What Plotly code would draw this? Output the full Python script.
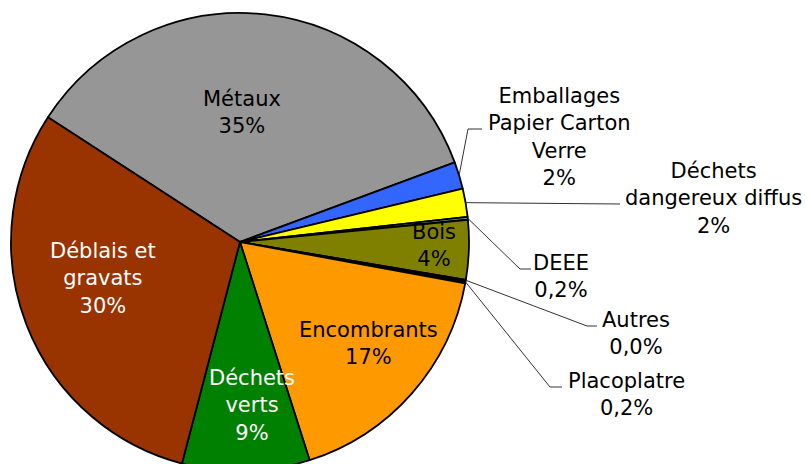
import plotly.graph_objects as go
import math

# ---- data ----
categories = ["Métaux", "Emballages<br>Papier Carton<br>Verre", "Déchets<br>dangereux diffus",
              "DEEE", "Bois", "Autres", "Placoplatre", "Encombrants", "Déchets<br>verts",
              "Déblais et<br>gravats"]
values = [35.2, 1.9, 2.0, 0.2, 4.2, 0.04, 0.2, 17.2, 9.0, 30.1]
colors = ["#969696", "#3366FF", "#FFFF00", "#5F9EA8", "#808000", "#000000", "#000000",
          "#FF9900", "#008000", "#993300"]
label_colors = ["black", "black", "black", "black", "black", "black", "black", "black",
                "white", "white"]


def pct_label(v):
    if v < 1:
        return f"{v:.1f}".replace(".", ",") + "%"
    return f"{round(v):d}%"


# ---- layout constants (pixels) ----
W, H = 807, 484
CX, CY, R = 240, 242, 229
START_ANGLE = 147.0  # math degrees where first slice starts (clockwise direction)

# label centres in pixels
label_pos = [(242, 112), (559, 137), (713, 198), (561, 276), (434, 245), (636, 333),
             (626, 394), (368, 343), (252, 405), (103, 278)]
# leader lines (elbow, end) in pixels for outside labels; None for inside labels
leaders = [None, [(468, 129), (482, 129)], [(620, 204)], [(520, 269), (531, 269)], None,
           [(587, 326), (597, 326)], [(550, 387), (562, 387)], None, None, None]


def px(x):
    return x / W


def py(y):
    return 1 - y / H


fig = go.Figure(go.Pie(
    labels=[c.replace("<br>", " ") for c in categories],
    values=values,
    sort=False,
    direction="clockwise",
    rotation=90 - START_ANGLE,
    marker=dict(colors=colors, line=dict(color="black", width=1.8)),
    textinfo="none",
    hoverinfo="label+percent",
    showlegend=False,
    domain=dict(x=[px(CX - R), px(CX + R)], y=[py(CY + R), py(CY - R)]),
))

total = sum(values)
cum = 0.0
annotations = []
shapes = []
for i, (name, v) in enumerate(zip(categories, values)):
    mid = START_ANGLE - 360 * (cum + v / 2) / total
    cum += v
    lx, ly = label_pos[i]
    annotations.append(dict(
        x=px(lx), y=py(ly), xref="paper", yref="paper",
        text=f"{name}<br>{pct_label(v)}", showarrow=False,
        xanchor="center", yanchor="middle", align="center",
        font=dict(family="DejaVu Sans", size=21, color=label_colors[i]),
    ))
    if leaders[i] is not None:
        sx = CX + R * math.cos(math.radians(mid))
        sy = CY - R * math.sin(math.radians(mid))
        pts = [(sx, sy)] + leaders[i]
        path = "M " + " L ".join(f"{px(x)},{py(y)}" for x, y in pts)
        shapes.append(dict(type="path", path=path, xref="paper", yref="paper",
                           line=dict(color="#333333", width=1)))

fig.update_layout(
    width=W, height=H,
    margin=dict(l=0, r=0, t=0, b=0),
    paper_bgcolor="white", plot_bgcolor="white",
    annotations=annotations, shapes=shapes,
)

fig.write_html("out.html", config={"displayModeBar": False},
               post_script="document.body.style.margin='0';document.body.style.overflow='hidden';"
                           "document.documentElement.style.overflow='hidden';")
